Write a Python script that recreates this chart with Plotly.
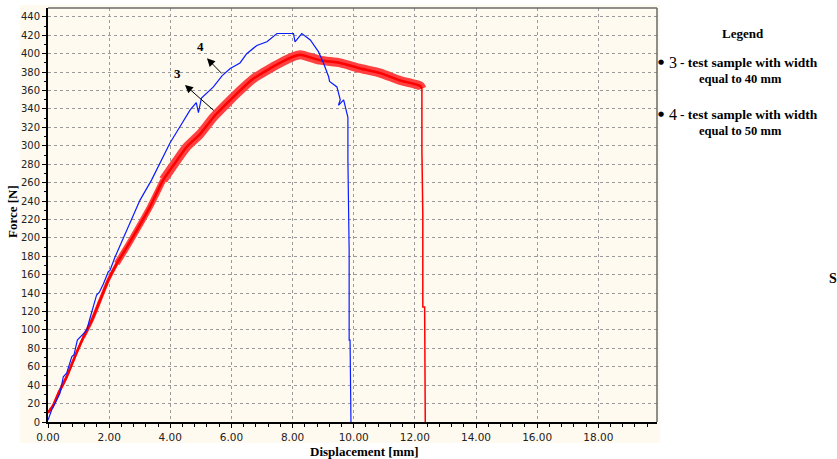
import plotly.graph_objects as go

# ---- data ----
blue_x = [0.0, 0.12, 0.39, 0.5, 0.61, 0.78, 0.85, 0.96, 1.16, 1.27, 1.35, 1.43, 1.59, 1.68, 1.81, 1.97,
          2.03, 2.19, 2.36, 2.58, 3.01, 3.39, 3.67, 3.99, 4.32, 4.65, 4.85, 4.92, 5.02, 5.19, 5.41,
          5.69, 5.96, 6.28, 6.5, 6.83, 7.16, 7.49, 8.03, 8.08, 8.30, 8.58, 8.85, 9.01, 9.18, 9.21,
          9.45, 9.56, 9.50, 9.67, 9.78, 9.81, 9.81, 9.83, 9.83, 9.85, 9.85, 9.88, 9.91]
blue_y = [2, 13, 31, 49, 53, 71, 73, 89, 96, 100, 110, 120, 138, 141, 150, 163,
          165, 179, 192, 208, 241, 263, 281, 303, 321, 339, 347, 336, 352, 357, 364,
          376, 384, 390, 400, 409, 413, 422, 422, 413, 422, 415, 402, 390, 375, 370,
          364, 350, 344, 350, 335, 331, 284, 208, 187, 187, 89, 89, 0]

red_x = [0.0, 0.17, 0.34, 0.61, 0.88, 1.16, 1.43, 1.70, 1.97, 2.25, 2.58, 2.90, 3.34, 3.77, 4.21,
         4.54, 4.98, 5.41, 5.85, 6.28, 6.72, 7.16, 7.59, 8.03, 8.25, 8.90, 9.56, 10.21, 10.87,
         11.52, 12.18, 12.23, 12.23, 12.26, 12.26, 12.32, 12.32, 12.34]
red_y = [10, 18, 31, 49, 71, 92, 110, 132, 154, 172, 190, 208, 234, 263, 284,
         299, 313, 331, 346, 360, 373, 382, 390, 397, 399, 393, 390, 384, 379,
         371, 365, 362, 295, 226, 125, 125, 25, 0]

x_ticks = [0, 2, 4, 6, 8, 10, 12, 14, 16, 18]
x_tick_labels = ["0.00", "2.00", "4.00", "6.00", "8.00", "10.00", "12.00", "14.00", "16.00", "18.00"]
y_ticks = list(range(0, 441, 20))

legend_lines = ["- test sample with width", "equal to 40 mm", "- test sample with width", "equal to 50 mm"]

RED = "#ff0000"
BLUE = "#0a1cff"
CREAM = "#fffaf0"
SERIF = "Liberation Serif, Times New Roman, serif"

fig = go.Figure()

# red curve: thin at start, progressively thicker noisy band, thin final drop
i_drop = 31
cuts = [(0, red_x.index(1.16), 2.5), (red_x.index(1.16), red_x.index(2.25), 3.5),
        (red_x.index(2.25), red_x.index(3.77), 6), (red_x.index(3.77), i_drop, 9)]
for a, b, w in cuts:
    fig.add_trace(go.Scatter(x=red_x[a:b + 1], y=red_y[a:b + 1], mode="lines",
                             line=dict(color="#ff4040", width=w, shape="spline", smoothing=0.6),
                             hoverinfo="skip", showlegend=False))
fig.add_trace(go.Scatter(x=red_x[:i_drop + 1], y=red_y[:i_drop + 1], mode="lines",
                         line=dict(color=RED, width=2.5, shape="spline", smoothing=0.6),
                         hoverinfo="skip", showlegend=False))
fig.add_trace(go.Scatter(x=red_x[i_drop:], y=red_y[i_drop:], mode="lines",
                         line=dict(color=RED, width=1.5), hoverinfo="skip", showlegend=False))
fig.add_trace(go.Scatter(x=blue_x, y=blue_y, mode="lines",
                         line=dict(color=BLUE, width=1.2), hoverinfo="skip", showlegend=False))

W, H = 837, 459
L, R, T, B = 48, 180, 8, 37
pw, ph = W - L - R, H - T - B


def px(xp):
    return (xp - L) / pw


def py(yp):
    return (H - B - yp) / ph


shapes = [
    dict(type="rect", xref="paper", yref="paper", x0=px(20), x1=px(660), y0=py(443), y1=py(5),
         fillcolor=CREAM, line=dict(width=0), layer="below"),
    dict(type="line", xref="paper", yref="paper", x0=1, x1=1, y0=0, y1=1,
         line=dict(color="#6a6a6a", width=1.5)),
    dict(type="line", xref="paper", yref="paper", x0=0, x1=1, y0=1, y1=1,
         line=dict(color="#6a6a6a", width=1.5)),
]


def ptext(xp, yp, text, size, xanchor="center", angle=0, family=SERIF):
    return dict(x=px(xp), y=py(yp), xref="paper", yref="paper", text=text, textangle=angle,
                xanchor=xanchor, yanchor="middle", showarrow=False,
                font=dict(family=family, size=size, color="black"))


annotations = [
    dict(x=5.20, y=395, ax=5.73, ay=377, xref="x", yref="y", axref="x", ayref="y", text="",
         showarrow=True, arrowhead=2, arrowsize=1.6, arrowwidth=1, arrowcolor="black"),
    dict(x=4.48, y=366, ax=5.47, ay=337, xref="x", yref="y", axref="x", ayref="y", text="",
         showarrow=True, arrowhead=2, arrowsize=1.6, arrowwidth=1, arrowcolor="black"),
    dict(x=4.98, y=408, xref="x", yref="y", text="<b>4</b>", showarrow=False,
         font=dict(family=SERIF, size=13, color="black")),
    dict(x=4.22, y=379, xref="x", yref="y", text="<b>3</b>", showarrow=False,
         font=dict(family=SERIF, size=13, color="black")),
    ptext(12, 212, "<b>Force [N]</b>", 13, angle=-90),
    ptext(364, 451, "<b>Displacement [mm]</b>", 13),
    ptext(743, 34, "<b>Legend</b>", 13),
    ptext(827, 278, "<b>S</b>", 14, xanchor="left"),
]

for num, row_y, (l1, l2) in [("3", 62, legend_lines[0:2]), ("4", 114, legend_lines[2:4])]:
    annotations += [
        ptext(661, row_y, "●", 7, family="DejaVu Sans"),
        ptext(667, row_y, num, 16, xanchor="left"),
        ptext(678, row_y, "<b>" + l1 + "</b>", 13.5, xanchor="left"),
        ptext(697, row_y + 17, "<b>" + l2 + "</b>", 12.5, xanchor="left"),
    ]

fig.update_layout(
    width=W, height=H,
    margin=dict(l=L, r=R, t=T, b=B, pad=0),
    paper_bgcolor="white", plot_bgcolor=CREAM,
    shapes=shapes, annotations=annotations,
    showlegend=False,
    xaxis=dict(range=[0, 19.92], tickvals=x_ticks, ticktext=x_tick_labels,
               showgrid=True, gridcolor="#9a9a9a", griddash="dot", gridwidth=1,
               zeroline=False, showline=True, linecolor="black", linewidth=2,
               ticks="outside", ticklen=4, tickcolor="black",
               minor=dict(dtick=0.4, ticks="outside", ticklen=3, tickcolor="black", showgrid=False),
               tickfont=dict(family="DejaVu Sans", size=10.5, color="#222")),
    yaxis=dict(range=[0, 449.7], tickvals=y_ticks,
               showgrid=True, gridcolor="#9a9a9a", griddash="dot", gridwidth=1,
               zeroline=False, showline=True, linecolor="black", linewidth=2,
               ticks="outside", ticklen=4, tickcolor="black",
               minor=dict(dtick=10, ticks="outside", ticklen=2, tickcolor="black", showgrid=False),
               tickfont=dict(family="DejaVu Sans", size=10, color="#222")),
)

fig.write_html("out.html")
